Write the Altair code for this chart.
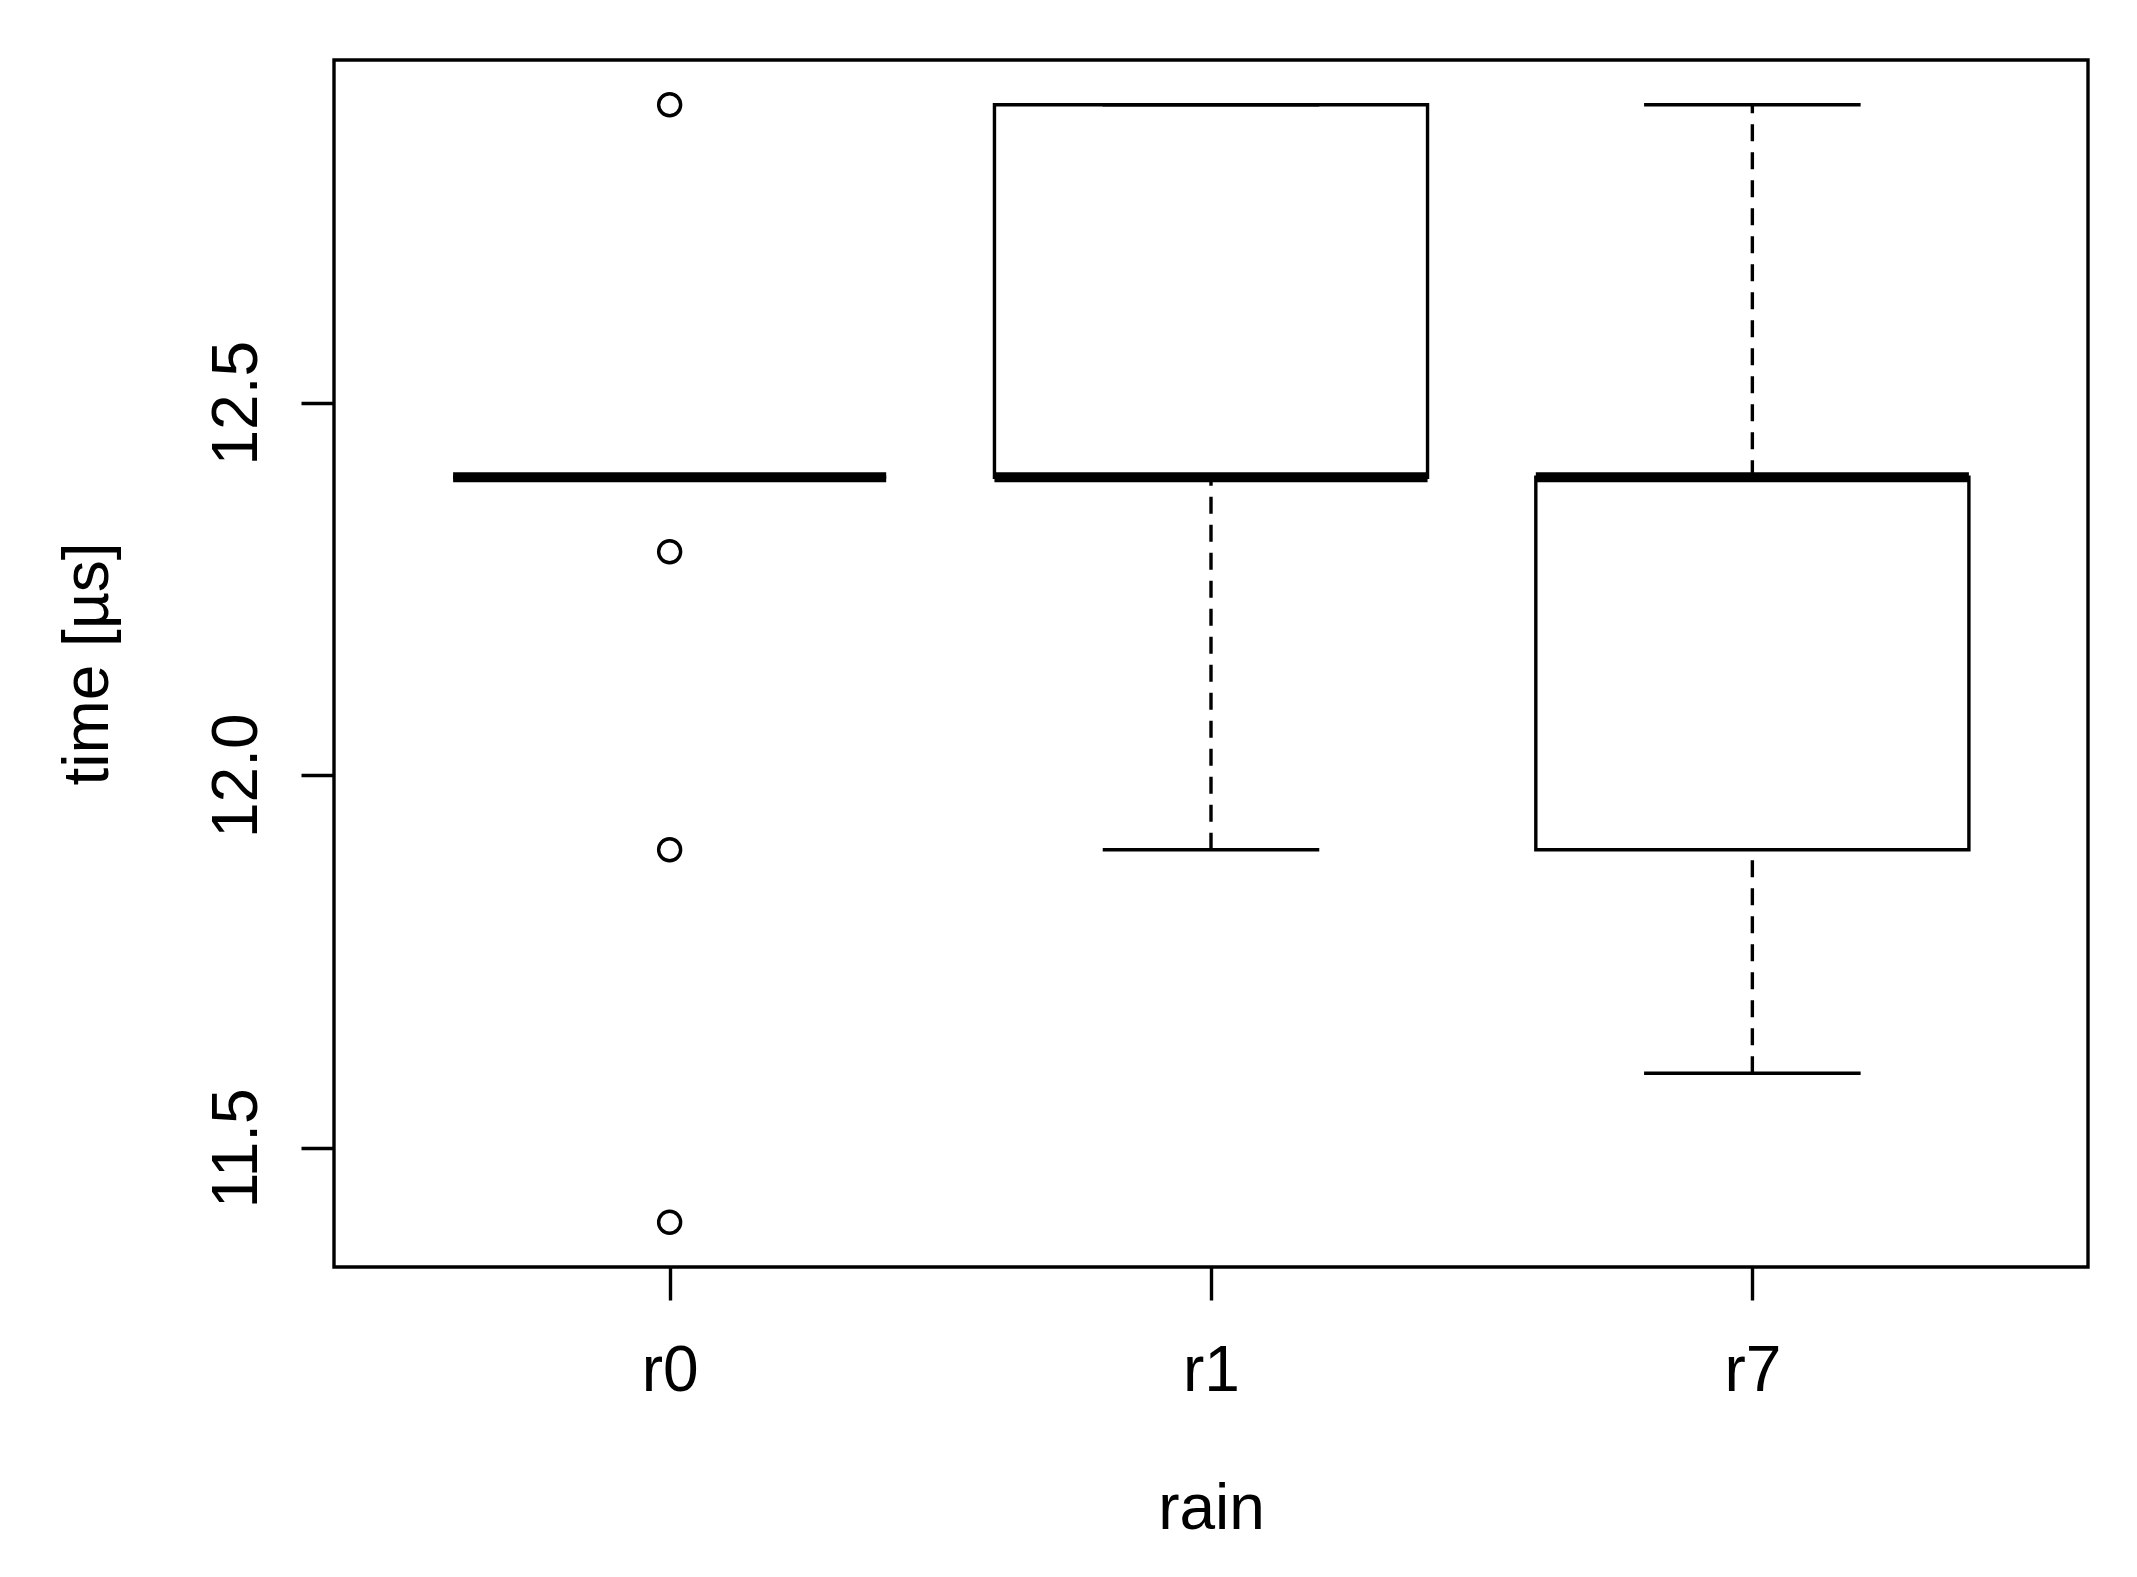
import altair as alt
import pandas as pd

categories = ["r0", "r1", "r7"]
lower_whisker = [12.4, 11.9, 11.6]
q1 = [12.4, 12.4, 11.9]
median = [12.4, 12.4, 12.4]
q3 = [12.4, 12.9, 12.4]
upper_whisker = [12.4, 12.9, 12.9]

outlier_cat = ["r0", "r0", "r0", "r0"]
outlier_val = [12.9, 12.3, 11.9, 11.4]

y_ticks = [11.5, 12.0, 12.5]

stats = pd.DataFrame({
    "cat": categories,
    "pos": [i + 1 for i in range(len(categories))],
    "lw": lower_whisker,
    "q1": q1,
    "med": median,
    "q3": q3,
    "uw": upper_whisker,
})
outl = pd.DataFrame({
    "cat": outlier_cat,
    "pos": [categories.index(c) + 1 for c in outlier_cat],
    "val": outlier_val,
})

FONT = "Liberation Sans"
W, H = 1754, 1207
LW = 3.4

label_expr = "[" + ",".join("'%s'" % c for c in categories) + "][datum.value - 1]"

xscale = alt.Scale(domain=[0.38, len(categories) + 0.62], nice=False, zero=False)
yscale = alt.Scale(domain=[11.34, 12.96], nice=False, zero=False)

xaxis = alt.Axis(
    values=[1, 2, 3], labelExpr=label_expr, title="rain", grid=False, domain=False,
    tickSize=33, tickWidth=LW, tickColor="black",
    labelFont=FONT, labelFontSize=64, labelColor="black", labelBaseline="alphabetic",
    labelPadding=90, labelAlign="center",
    titleFont=FONT, titleFontSize=64, titleFontWeight="normal", titleColor="black",
    titleBaseline="alphabetic", titleAlign="center", titleX=W / 2, titleY=261,
)
yaxis = alt.Axis(
    values=y_ticks, format=".1f", title="time [µs]", grid=False, domain=False,
    tickSize=33, tickWidth=LW, tickColor="black",
    labelFont=FONT, labelFontSize=64, labelColor="black", labelAngle=-90,
    labelAlign="center", labelBaseline="alphabetic", labelPadding=45,
    titleFont=FONT, titleFontSize=64, titleFontWeight="normal", titleColor="black",
    titleAngle=-90, titleBaseline="alphabetic", titleAlign="center",
    titleX=107 - 334, titleY=H / 2,
)

base = alt.Chart(stats).transform_calculate(
    bl="datum.pos - 0.4", br="datum.pos + 0.4",
    cl="datum.pos - 0.2", cr="datum.pos + 0.2",
)

boxes = base.mark_rect(fill="white", stroke="black", strokeWidth=LW).encode(
    x=alt.X("bl:Q", scale=xscale, axis=xaxis),
    x2="br:Q",
    y=alt.Y("q1:Q", scale=yscale, axis=yaxis),
    y2="q3:Q",
)

whisk_lo = base.mark_rule(color="black", strokeWidth=LW, strokeDash=[17, 11]).encode(
    x=alt.X("pos:Q", scale=xscale), y=alt.Y("lw:Q", scale=yscale), y2="q1:Q"
)
whisk_hi = base.mark_rule(color="black", strokeWidth=LW, strokeDash=[17, 11]).encode(
    x=alt.X("pos:Q", scale=xscale), y=alt.Y("q3:Q", scale=yscale), y2="uw:Q"
)
cap_lo = base.mark_rule(color="black", strokeWidth=LW).encode(
    x=alt.X("cl:Q", scale=xscale), x2="cr:Q", y=alt.Y("lw:Q", scale=yscale)
)
cap_hi = base.mark_rule(color="black", strokeWidth=LW).encode(
    x=alt.X("cl:Q", scale=xscale), x2="cr:Q", y=alt.Y("uw:Q", scale=yscale)
)
med = base.mark_rule(color="black", strokeWidth=10).encode(
    x=alt.X("bl:Q", scale=xscale), x2="br:Q", y=alt.Y("med:Q", scale=yscale)
)
pts = alt.Chart(outl).mark_point(
    shape="circle", filled=False, stroke="black", strokeWidth=LW, size=484, opacity=1
).encode(
    x=alt.X("pos:Q", scale=xscale), y=alt.Y("val:Q", scale=yscale)
)

chart = alt.layer(boxes, whisk_lo, whisk_hi, cap_lo, cap_hi, med, pts).properties(
    width=W, height=H,
    background="white",
    autosize=alt.AutoSizeParams(type="none"),
    padding={"left": 326, "top": 52, "right": 40, "bottom": 300},
).configure_view(stroke="black", strokeWidth=LW, strokeOpacity=1)

chart.save("out.html", embed_options={"renderer": "svg", "actions": False})
